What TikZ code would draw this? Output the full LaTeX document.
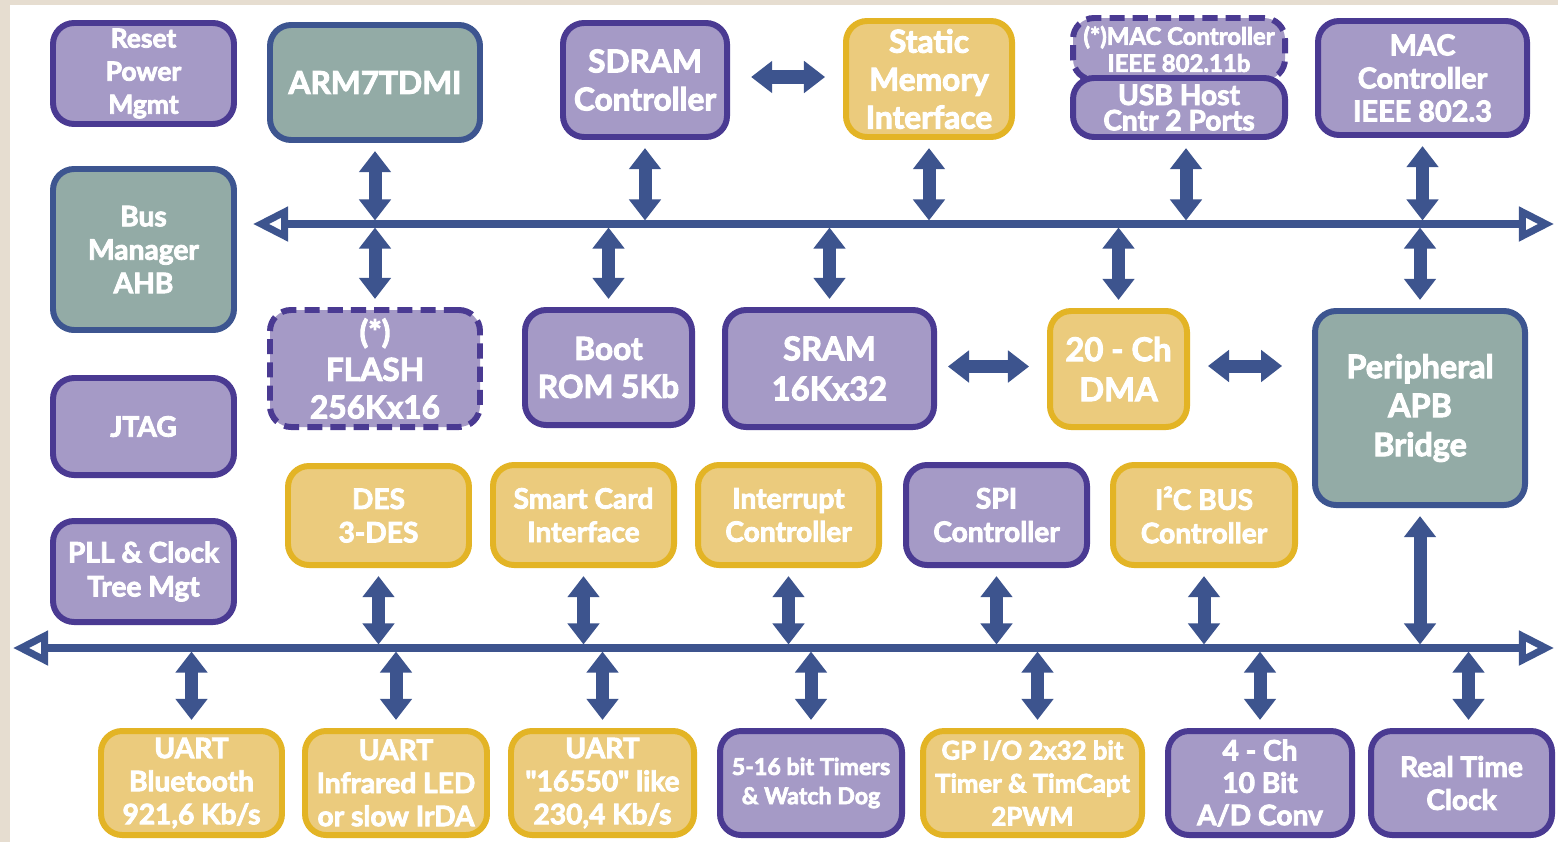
\documentclass[tikz,border=0pt]{standalone}
\usepackage{fontspec}
\setmainfont{Lato}
\newfontfamily\boxfont{Lato}[FakeBold=3]
\usetikzlibrary{arrows.meta,calc}
\definecolor{pfill}{HTML}{A59AC6}
\definecolor{pline}{HTML}{4A3A92}
\definecolor{tfill}{HTML}{93ABA6}
\definecolor{tline}{HTML}{3D5590}
\definecolor{yfill}{HTML}{EBCB7D}
\definecolor{yline}{HTML}{E3B425}
\definecolor{arrc}{HTML}{3D548E}
\definecolor{bgbeige}{HTML}{E6DDD0}
\tikzset{
  x=0.01cm, y=-0.01cm,
  blk/.style={rounded corners=6pt, line width=1.7pt, align=center, text=white, inner sep=0pt},
  pbox/.style={blk, fill=pfill, draw=pline},
  tbox/.style={blk, fill=tfill, draw=tline},
  ybox/.style={blk, fill=yfill, draw=yline},
  dashbox/.style={dash pattern=on 4.3pt off 2.3pt},
  sz/.style 2 args={minimum width=#1*0.01cm, minimum height=#2*0.01cm},
  fs/.style 2 args={font=\boxfont\bfseries\fontsize{#1pt}{#2pt}\selectfont},
  dbl/.style={draw=arrc, line width=3.7pt, {Triangle[width=8.8pt,length=6pt]}-{Triangle[width=8.8pt,length=6pt]}},
  bus/.style={draw=arrc, line width=2pt, {Triangle[open,width=9.5pt,length=10pt]}-{Triangle[open,width=9.5pt,length=10pt]}},
  dn/.style={dbl, shorten <=2.3pt, shorten >=1pt},
  up/.style={dbl, shorten <=1pt, shorten >=2.3pt},
}
\begin{document}
\begin{tikzpicture}
\fill[bgbeige] (0,0) rectangle (1558,842);
\fill[white] (10,5) rectangle (1558,842);
\useasboundingbox (0,0) rectangle (1558,842);

% buses
\coordinate (ahbW) at (253,224);
\coordinate (ahbE) at (1554,224);
\coordinate (apbW) at (13,648);
\coordinate (apbE) at (1554,648);
\draw[bus] (ahbW) -- (ahbE);
\draw[bus] (apbW) -- (apbE);

% top row
\node[pbox, sz={181}{101}, fs={7.5}{9.4}] (reset) at (143.5,73.5) {Reset\\Power\\Mgmt};
\node[tbox, sz={210}{115}, fs={9}{10.8}] (arm) at (375,82.5) {ARM7TDMI};
\node[pbox, sz={164}{114}, fs={9}{10.8}] (sdram) at (645,80) {SDRAM\\Controller};
\node[ybox, sz={166}{116}, fs={9}{10.8}] (static) at (929,79) {Static\\Memory\\Interface};
\node[pbox, dashbox, sz={212}{62}, fs={6.8}{7.7}] (mac11) at (1179,49) {(*)MAC Controller\\IEEE 802.11b};
\node[pbox, sz={212}{59}, fs={8}{7.2}] (usb) at (1179,107.5) {USB Host\\Cntr 2 Ports};
\node[pbox, sz={209}{114}, fs={8.2}{9.4}] (mac3) at (1422.5,78) {MAC\\Controller\\IEEE 802.3};

% left column
\node[tbox, sz={181}{161}, fs={8}{9.5}] (busmgr) at (143.5,249.5) {Bus\\Manager\\AHB};
\node[pbox, sz={181}{97}, fs={8}{9.5}] (jtag) at (143.5,426.5) {JTAG};
\node[pbox, sz={181}{101}, fs={8}{9.7}] (pll) at (143.5,571.5) {PLL \& Clock\\Tree Mgt};

% middle row
\node[pbox, dashbox, sz={210}{117}, fs={9}{10.7}] (flash) at (375,368.5) {(*)\\FLASH\\256Kx16};
\node[pbox, sz={167}{115}, fs={9}{10.8}] (boot) at (608.5,367.5) {Boot\\ROM 5Kb};
\node[pbox, sz={209}{117}, fs={9.3}{11.4}] (sram) at (829.5,368.5) {SRAM\\16Kx32};
\node[ybox, sz={137}{116}, fs={9.3}{11.4}] (dma) at (1118.5,369) {20 - Ch\\DMA};
\node[tbox, sz={210}{194}, fs={9.2}{11.1}] (periph) at (1420,408) {Peripheral\\APB\\Bridge};

% third row
\node[ybox, sz={181}{99}, fs={8}{9.5}] (des) at (378.5,515.5) {DES\\3-DES};
\node[ybox, sz={181}{100}, fs={8}{9.5}] (smart) at (583.5,515) {Smart Card\\Interface};
\node[ybox, sz={181}{100}, fs={8}{9.5}] (intr) at (788.5,515) {Interrupt\\Controller};
\node[pbox, sz={181}{100}, fs={8}{9.5}] (spi) at (996.5,515) {SPI\\Controller};
\node[ybox, sz={182}{100}, fs={8}{9.5}] (i2c) at (1204,515) {I²C BUS\\Controller};

% bottom row
\node[ybox, sz={181}{104}, fs={8}{9.4}] (uart1) at (191.5,783) {UART\\Bluetooth\\921,6 Kb/s};
\node[ybox, sz={182}{104}, fs={8}{9.4}] (uart2) at (396,783) {UART\\Infrared LED\\or slow IrDA};
\node[ybox, sz={183}{104}, fs={8}{9.4}] (uart3) at (602.5,783) {UART\\"16550" like\\230,4 Kb/s};
\node[pbox, sz={182}{104}, fs={6.6}{8.3}] (timers) at (811,783) {5-16 bit Timers\\\& Watch Dog};
\node[ybox, sz={219}{104}, fs={7.3}{9.4}] (gpio) at (1032.5,783) {GP I/O 2x32 bit\\Timer \& TimCapt\\2PWM};
\node[pbox, sz={184}{104}, fs={8}{9.2}] (adc) at (1260,783) {4 - Ch\\10 Bit\\A/D Conv};
\node[pbox, sz={181}{104}, fs={8}{9.4}] (rtc) at (1461.5,783) {Real Time\\Clock};

% top row to AHB
\draw[dn] (arm.south) -- (arm.south |- ahbW);
\draw[dn] (sdram.south) -- (sdram.south |- ahbW);
\draw[dn] (static.south) -- (static.south |- ahbW);
\draw[dn] ($(usb.south)+(7,0)$) -- ($(usb.south |- ahbW)+(7,0)$);
\draw[dn] (mac3.south) -- (mac3.south |- ahbW);
% AHB to middle row
\draw[up] (flash.north |- ahbW) -- (flash.north);
\draw[up] (boot.north |- ahbW) -- (boot.north);
\draw[up] (sram.north |- ahbW) -- (sram.north);
\draw[up] (dma.north |- ahbW) -- (dma.north);
\draw[up] (periph.north |- ahbW) -- (periph.north);
% horizontal links
\draw[dbl, shorten <=6pt, shorten >=5.1pt] ($(sdram.east)+(0,-3)$) -- ($(sdram.east -| static.west)+(0,-3)$);
\draw[dbl, shorten <=3.1pt, shorten >=5.1pt] ($(sram.east)+(0,-2)$) -- ($(sram.east -| dma.west)+(0,-2)$);
\draw[dbl, shorten <=5.1pt, shorten >=8.5pt] ($(dma.east)+(0,-3)$) -- ($(dma.east -| periph.west)+(0,-3)$);
% to APB
\draw[dn] (periph.south) -- (periph.south |- apbW);
\draw[dn] (des.south) -- (des.south |- apbW);
\draw[dn] (smart.south) -- (smart.south |- apbW);
\draw[dn] (intr.south) -- (intr.south |- apbW);
\draw[dn] (spi.south) -- (spi.south |- apbW);
\draw[dn] (i2c.south) -- (i2c.south |- apbW);
% APB to bottom row
\draw[up] (uart1.north |- apbW) -- (uart1.north);
\draw[up] (uart2.north |- apbW) -- (uart2.north);
\draw[up] (uart3.north |- apbW) -- (uart3.north);
\draw[up] (timers.north |- apbW) -- (timers.north);
\draw[up] ($(gpio.north |- apbW)+(5,0)$) -- ($(gpio.north)+(5,0)$);
\draw[up] (adc.north |- apbW) -- (adc.north);
\draw[up] ($(rtc.north |- apbW)+(7,0)$) -- ($(rtc.north)+(7,0)$);
\end{tikzpicture}
\end{document}
